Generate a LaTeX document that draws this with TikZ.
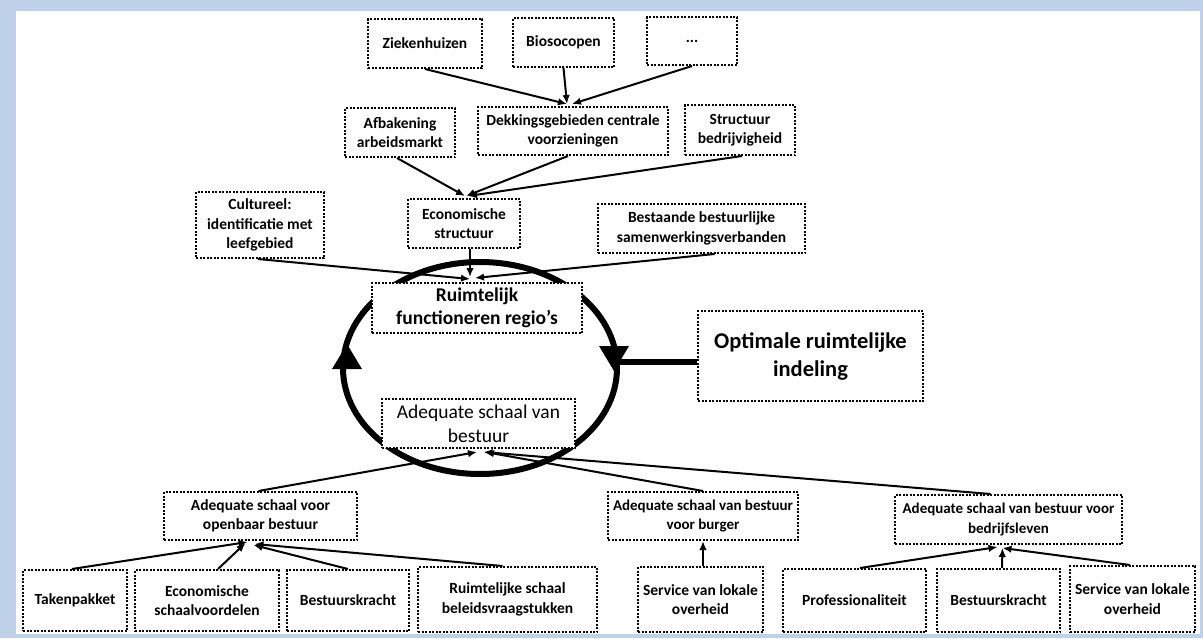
\documentclass[tikz,border=0pt]{standalone}
\usepackage{fontspec}
\setmainfont{Carlito}
\usetikzlibrary{arrows.meta}
\definecolor{frameblue}{RGB}{192,210,234}
\tikzset{
  bx/.style={draw, line width=2pt, dash pattern=on 2pt off 1.5pt, fill=white,
    align=center, inner sep=0pt, font=\fontsize{15.5}{19.5}\selectfont\bfseries},
  bigbx/.style={bx, font=\fontsize{19.5}{23}\selectfont\bfseries},
  conn/.style={line width=2pt, -{Latex[length=9pt,width=7.5pt]}},
}
\begin{document}
\begin{tikzpicture}[x=1pt,y=-1pt]
\useasboundingbox (0,0) rectangle (1203,638);
\fill[frameblue] (0,0) rectangle (1203,638);
\fill[white] (16,11) rectangle (1200,634);

% cycle ellipse
\draw[line width=6pt] (480,368) ellipse [x radius=137pt, y radius=106pt];
\fill (332,369) -- (362,369) -- (347,344) -- cycle;
\fill (599,346) -- (629,346) -- (614,371) -- cycle;
\coordinate (er) at (616,362);

% top row
\node[bx, minimum width=114pt, minimum height=49pt] (zk) at (425,43.5) {Ziekenhuizen};
\node[bx, minimum width=101pt, minimum height=49pt] (bio) at (563.5,42.5) {Biosocopen};
\node[bx, minimum width=90pt, minimum height=48pt] (dots) at (692,41) {\raisebox{-2pt}{...}};
% second row
\node[bx, minimum width=110pt, minimum height=49pt] (af) at (400,132.5) {Afbakening\\arbeidsmarkt};
\node[bx, minimum width=190pt, minimum height=48pt] (dk) at (573,131) {Dekkingsgebieden centrale\\voorzieningen};
\node[bx, minimum width=110pt, minimum height=50pt] (st) at (740,130) {Structuur\\bedrijvigheid};
% third row
\node[bx, minimum width=128pt, minimum height=66pt] (cu) at (260,225) {Cultureel:\\identificatie met\\leefgebied};
\node[bx, minimum width=112pt, minimum height=49pt] (es) at (464,223.5) {Economische\\structuur};
\node[bx, minimum width=207pt, minimum height=49pt] (ba) at (701.5,228.5) {Bestaande bestuurlijke\\samenwerkingsverbanden};
% centre
\node[bigbx, minimum width=210pt, minimum height=50pt] (rf) at (477,308) {Ruimtelijk\\functioneren regio\char"0027s};
\node[bx, minimum width=193pt, minimum height=49pt, font=\fontsize{19.5}{24}\selectfont] (asb) at (478.5,423.5) {Adequate schaal van\\bestuur};
\node[bx, minimum width=225pt, minimum height=90pt, font=\fontsize{22.5}{28}\selectfont\bfseries] (opt) at (810.5,356) {Optimale ruimtelijke\\indeling};
% lower middle row
\node[bx, minimum width=193pt, minimum height=48pt] (aob) at (260.5,516) {Adequate schaal voor\\openbaar bestuur};
\node[bx, minimum width=190pt, minimum height=48pt, font=\fontsize{15}{19.5}\selectfont\bfseries] (avb) at (703,516) {Adequate schaal van bestuur\\voor burger};
\node[bx, minimum width=227pt, minimum height=49pt, font=\fontsize{15}{19.5}\selectfont\bfseries] (abd) at (1008.5,519.5) {Adequate schaal van bestuur voor\\bedrijfsleven};
% bottom row
\node[bx, minimum width=104pt, minimum height=61pt] (tk) at (75,600.5) {Takenpakket};
\node[bx, minimum width=144pt, minimum height=61pt] (esv) at (207,600.5) {Economische\\schaalvoordelen};
\node[bx, minimum width=122pt, minimum height=61pt] (bk1) at (348,600.5) {Bestuurskracht};
\node[bx, minimum width=179pt, minimum height=65pt] (rsb) at (507.5,599.5) {Ruimtelijke schaal\\beleidsvraagstukken};
\node[bx, minimum width=125pt, minimum height=65pt] (slo1) at (700.5,599.5) {Service van lokale\\overheid};
\node[bx, minimum width=143pt, minimum height=63pt] (prof) at (854.5,600.5) {Professionaliteit};
\node[bx, minimum width=123pt, minimum height=63pt] (bk2) at (998.5,600.5) {Bestuurskracht};
\node[bx, minimum width=125pt, minimum height=66pt] (slo2) at (1132.5,599) {Service van lokale\\overheid};

% thick connector
\draw[line width=6.5pt] ([yshift=-6pt]opt.west) -- (er);

% connectors
\draw[conn] (zk.south) -- ([xshift=-6pt,yshift=2pt]dk.north);
\draw[conn] (bio.south) -- ([xshift=-6pt,yshift=2pt]dk.north);
\draw[conn] (dots.south) -- ([xshift=-1pt,yshift=2pt]dk.north);
\draw[conn] ([xshift=-3pt]af.south) -- ([xshift=1pt,yshift=2pt]es.north);
\draw[conn] ([xshift=-5pt]dk.south) -- ([xshift=2pt,yshift=2pt]es.north);
\draw[conn] ([xshift=2pt]st.south) -- ([xshift=4pt,yshift=2pt]es.north);
\draw[conn] ([xshift=6pt]es.south) -- ([xshift=-7pt,yshift=5pt]rf.north);
\draw[conn] ([xshift=-2pt]cu.south) -- ([xshift=-7pt,yshift=3pt]rf.north);
\draw[conn] ([xshift=13pt]ba.south) -- ([xshift=-2pt,yshift=4pt]rf.north);
\draw[conn] ([xshift=-2pt]aob.north) -- ([xshift=-1.5pt,yshift=-3pt]asb.south);
\draw[conn] (avb.north) -- ([xshift=6.5pt,yshift=-3pt]asb.south);
\draw[conn] ([xshift=-18pt]abd.north) -- ([xshift=5pt,yshift=-3pt]asb.south);
\draw[conn] ([xshift=-3pt]tk.north) -- ([xshift=-13pt,yshift=-1pt]aob.south);
\draw[conn] ([xshift=11pt]esv.north) -- ([xshift=-15pt,yshift=-2pt]aob.south);
\draw[conn] (bk1.north) -- ([xshift=-7pt,yshift=-4pt]aob.south);
\draw[conn] ([xshift=-5pt]rsb.north) -- ([xshift=-6pt,yshift=-3pt]aob.south);
\draw[conn] ([xshift=2.5pt]slo1.north) -- (avb.south);
\draw[conn] ([xshift=5.5pt]prof.north) -- ([xshift=-11pt,yshift=-2pt]abd.south);
\draw[conn] ([xshift=3.5pt]bk2.north) -- ([xshift=-6pt,yshift=-3pt]abd.south);
\draw[conn] ([xshift=-2.5pt]slo2.north) -- ([xshift=-6pt,yshift=-3pt]abd.south);
\end{tikzpicture}
\end{document}
